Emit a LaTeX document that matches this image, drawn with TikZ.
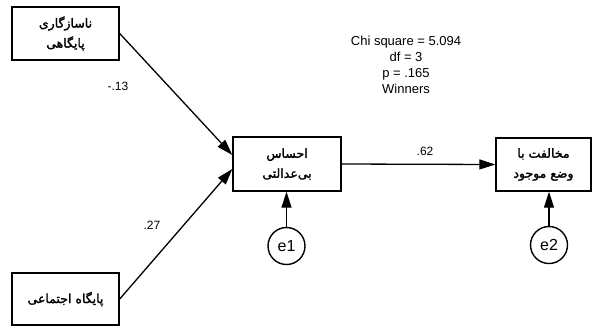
\documentclass[tikz,border=0pt]{standalone}
\usepackage{fontspec}
\setmainfont{Liberation Sans}
\newfontfamily\fa[Script=Arabic,FakeBold=1.8]{DejaVu Sans}
\TeXXeTstate=1
\usetikzlibrary{arrows.meta}
\begin{document}
\begin{tikzpicture}[x=1pt,y=-1pt,
  box/.style={draw,line width=1.4pt,inner sep=0pt,align=center,font=\fa\fontsize{12.5}{20}\selectfont},
  err/.style={draw,circle,line width=1.4pt,minimum size=37pt,inner sep=0pt,font=\fontsize{16}{17}\selectfont},
  arr/.style={line width=1.3pt,-{Triangle[length=16pt,width=10pt]}},
  lab/.style={font=\fontsize{12}{13}\selectfont}]
\useasboundingbox (0,0) rectangle (593,327);
\node[box,minimum width=107pt,minimum height=53pt] (b1) at (65.5,33.5) {\beginR ناسازگاری\endR\\\beginR پایگاهی\endR};
\node[box,minimum width=108pt,minimum height=54pt] (b2) at (287,164) {\beginR احساس\endR\\\beginR بی‌عدالتی\endR};
\node[box,minimum width=95pt,minimum height=53pt] (b3) at (543.5,164.5) {\beginR مخالفت با\endR\\\beginR وضع موجود\endR};
\node[box,minimum width=107pt,minimum height=52pt] (b4) at (65.5,299) {\beginR پایگاه اجتماعی\endR};
\node[err] (e1) at (286.5,246) {e1};
\node[err] (e2) at (549,245) {e2};
\draw[arr] (b1.east) -- ([yshift=9pt]b2.west);
\draw[arr] (b4.east) -- ([yshift=-5pt]b2.west);
\draw[arr] (b2.east) -- (b3.west);
\draw[arr] (e1) -- (b2.south -| e1);
\draw[arr] (e2) -- (b3.south -| e2);
\node[lab] (l1) at (118,86) {-.13};
\node[lab] (l2) at (152,225) {.27};
\node[lab] (l3) at (425,151) {.62};
\node[align=center,font=\fontsize{13}{16}\selectfont] (st) at (406,65) {Chi square = 5.094\\df = 3\\p = .165\\Winners};
\end{tikzpicture}
\end{document}
